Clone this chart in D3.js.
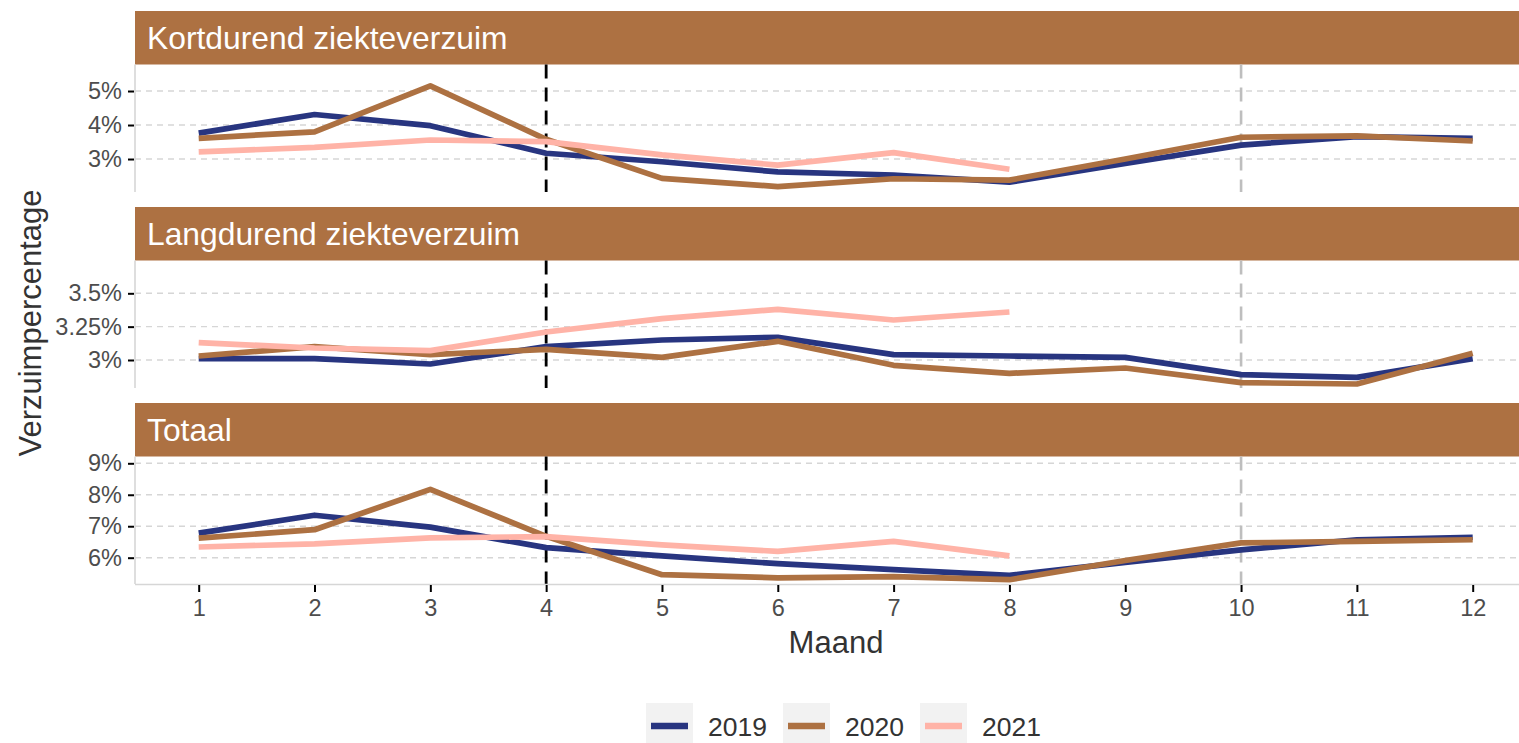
<!DOCTYPE html>
<html><head><meta charset="utf-8">
<script src="https://cdn.jsdelivr.net/npm/d3@7"></script>
<style>body{margin:0;background:#fff}svg{display:block;font-family:"Liberation Sans",Arial,sans-serif}</style>
</head><body><svg id="c" width="1519" height="743"></svg>
<script>
const months = [1,2,3,4,5,6,7,8,9,10,11,12];
const years = ["2019","2020","2021"];
const panelTitles = ["Kortdurend ziekteverzuim","Langdurend ziekteverzuim","Totaal"];

const kort2019 = [3.76,4.31,3.98,3.17,2.92,2.62,2.53,2.32,2.87,3.41,3.66,3.61];
const kort2020 = [3.61,3.80,5.15,3.58,2.43,2.19,2.42,2.38,3.00,3.64,3.68,3.53];
const kort2021 = [3.21,3.34,3.56,3.51,3.12,2.82,3.19,2.70];

const lang2019 = [3.01,3.01,2.97,3.10,3.15,3.17,3.04,3.03,3.02,2.89,2.87,3.01];
const lang2020 = [3.03,3.10,3.04,3.08,3.02,3.14,2.96,2.90,2.94,2.83,2.82,3.05];
const lang2021 = [3.13,3.09,3.07,3.21,3.31,3.38,3.30,3.36];

const tot2019 = [6.78,7.35,6.97,6.32,6.06,5.81,5.62,5.44,5.85,6.25,6.57,6.65];
const tot2020 = [6.62,6.89,8.17,6.68,5.46,5.36,5.40,5.30,5.91,6.47,6.52,6.57];
const tot2021 = [6.34,6.44,6.63,6.67,6.41,6.20,6.52,6.06];

const yTicks = [[3,4,5],[3,3.25,3.5],[6,7,8,9]];
const yDomains = [[2.03,5.78],[2.79,3.746],[5.164,9.216]];
const blackLine = [4];
const greyLine = [10];

const seriesByPanel = [[kort2019,kort2020,kort2021],[lang2019,lang2020,lang2021],[tot2019,tot2020,tot2021]];
const colors = ["#283580","#AD7142","#FFB3A7"];
const stripColor = "#AD7142";

const svg = d3.select("#c");
const left = 135, right = 1536.4;
const top0 = 11, stripH = 53.5, panelH = 127.5, gap = 15;
const x = d3.scaleLinear().domain([0.45,12.55]).range([left,right]);

panelTitles.forEach((title,i)=>{
  const sTop = top0 + i*(stripH+panelH+gap);
  const pTop = sTop + stripH, pBot = pTop + panelH;
  const y = d3.scaleLinear().domain(yDomains[i]).range([pBot,pTop]);
  const g = svg.append("g");
  g.selectAll("line.grid").data(yTicks[i]).join("line")
    .attr("x1",left).attr("x2",right).attr("y1",d=>y(d)).attr("y2",d=>y(d))
    .attr("stroke","#d6d6d6").attr("stroke-width",1.4).attr("stroke-dasharray","6,5");
  g.append("rect").attr("x",left).attr("y",sTop).attr("width",right-left).attr("height",stripH).attr("fill",stripColor);
  g.append("text").attr("x",147).attr("y",sTop+38.3).attr("fill","#fff").attr("font-size",31.8).text(title);
  g.append("line").attr("x1",left).attr("x2",left).attr("y1",pTop).attr("y2",pBot)
    .attr("stroke","#d6d6d6").attr("stroke-width",1.6);
  const ya = d3.axisLeft(y).tickValues(yTicks[i]).tickSize(6).tickPadding(6).tickFormat(d=>d+"%");
  const ag = g.append("g").attr("transform",`translate(${left-1},0)`).call(ya);
  ag.select(".domain").remove();
  ag.selectAll(".tick line").attr("stroke","#000").attr("stroke-width",2);
  ag.selectAll(".tick text").attr("fill","#4d4d4d").attr("font-size",23.5).attr("font-family","Liberation Sans, Arial, sans-serif");
  g.selectAll("line.rb").data(blackLine).join("line")
    .attr("x1",d=>x(d)).attr("x2",d=>x(d)).attr("y1",pTop).attr("y2",pBot)
    .attr("stroke","#000").attr("stroke-width",2.8).attr("stroke-dasharray","14,9");
  g.selectAll("line.rg").data(greyLine).join("line")
    .attr("x1",d=>x(d)).attr("x2",d=>x(d)).attr("y1",pTop).attr("y2",pBot)
    .attr("stroke","#bebebe").attr("stroke-width",2.6).attr("stroke-dasharray","14,9");
  const line = d3.line().x((d,j)=>x(months[j])).y(d=>y(d));
  seriesByPanel[i].forEach((vals,k)=>{
    g.append("path").datum(vals).attr("d",line).attr("fill","none")
      .attr("stroke",colors[k]).attr("stroke-width",5.7).attr("stroke-linejoin","round").attr("stroke-linecap","butt");
  });
  if(i===2){
    g.append("line").attr("x1",left).attr("x2",right).attr("y1",pBot+0.5).attr("y2",pBot+0.5)
      .attr("stroke","#d6d6d6").attr("stroke-width",1.6);
    const xa = d3.axisBottom(x).tickValues(months).tickSize(7).tickPadding(7).tickFormat(d3.format("d"));
    const xg = g.append("g").attr("transform",`translate(0,${pBot+1})`).call(xa);
    xg.select(".domain").remove();
    xg.selectAll(".tick line").attr("stroke","#000").attr("stroke-width",2);
    xg.selectAll(".tick text").attr("fill","#4d4d4d").attr("font-size",23.5).attr("font-family","Liberation Sans, Arial, sans-serif");
  }
});

svg.append("text").attr("x",836).attr("y",653).attr("text-anchor","middle").attr("font-size",31).attr("fill","#333").text("Maand");
svg.append("text").attr("transform","translate(41,323) rotate(-90)").attr("text-anchor","middle").attr("font-size",31).attr("fill","#333").text("Verzuimpercentage");

const lg = svg.append("g");
years.forEach((yr,k)=>{
  const x0 = 646 + k*137;
  lg.append("rect").attr("x",x0).attr("y",703).attr("width",47).attr("height",40).attr("fill","#f2f2f2");
  lg.append("line").attr("x1",x0+5).attr("x2",x0+42).attr("y1",726).attr("y2",726).attr("stroke",colors[k]).attr("stroke-width",6.5);
  lg.append("text").attr("x",x0+62).attr("y",736).attr("font-size",26.5).attr("fill","#333").text(yr);
});
</script></body></html>
